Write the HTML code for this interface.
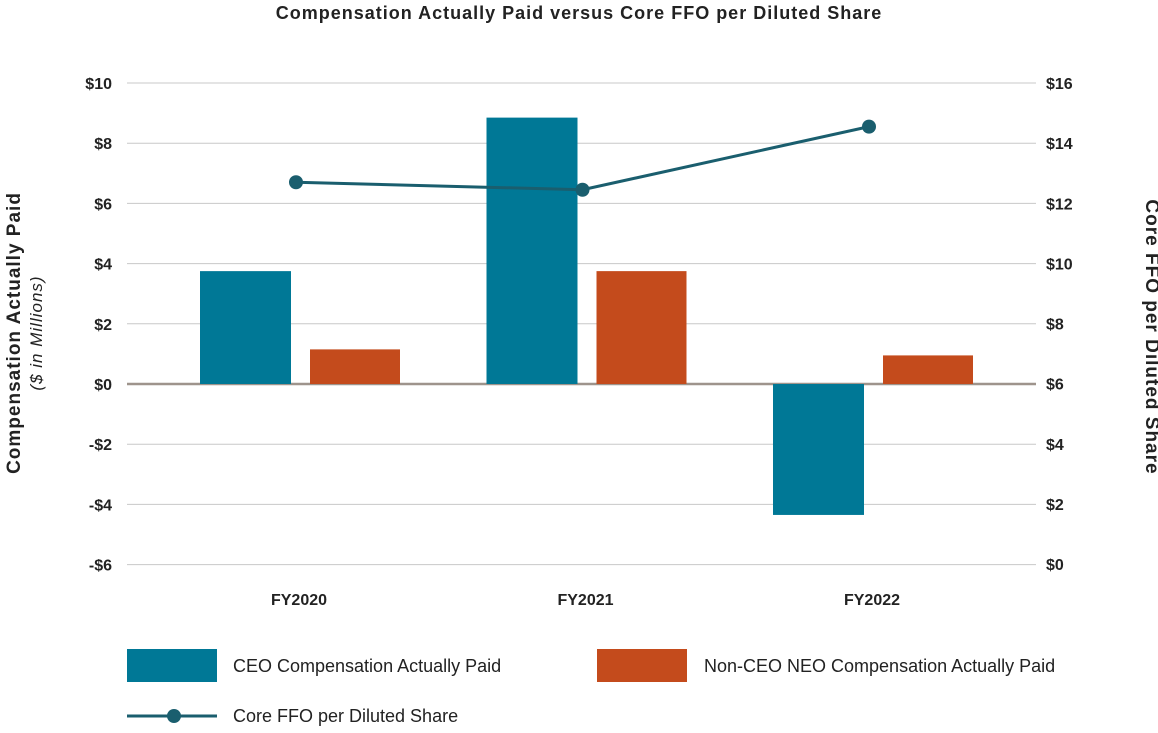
<!DOCTYPE html>
<html><head><meta charset="utf-8"><style>
body{margin:0;background:#fff;}
svg text{font-family:"Liberation Sans",sans-serif;fill:#222;}
</style></head><body>
<svg width="1158" height="728" id="c">
<text x="579" y="19" text-anchor="middle" font-size="18" font-weight="bold" letter-spacing="1">Compensation Actually Paid versus Core FFO per Diluted Share</text>
<g id="grid"></g><g id="bars"></g><g id="line"></g>
<text transform="translate(20,333) rotate(-90)" text-anchor="middle" font-size="19" font-weight="bold" letter-spacing="1">Compensation Actually Paid</text>
<text transform="translate(42,333) rotate(-90)" text-anchor="middle" font-size="17" font-style="italic" letter-spacing="1">($ in Millions)</text>
<text transform="translate(1146,337) rotate(90)" text-anchor="middle" font-size="19" font-weight="bold" letter-spacing="1">Core FFO per Diluted Share</text>
<rect x="127" y="649" width="90" height="33" fill="#007896"/>
<text x="233" y="672" font-size="18">CEO Compensation Actually Paid</text>
<rect x="597" y="649" width="90" height="33" fill="#c44b1c"/>
<text x="704" y="672" font-size="18">Non-CEO NEO Compensation Actually Paid</text>
<line x1="127" y1="716" x2="217" y2="716" stroke="#1a5e6e" stroke-width="3"/>
<circle cx="174" cy="716" r="7" fill="#1a5e6e"/>
<text x="233" y="722" font-size="18">Core FFO per Diluted Share</text>
</svg>
<script>
const categories=["FY2020","FY2021","FY2022"];
const ceoValues=[3.75,8.85,-4.35];
const neoValues=[1.15,3.75,0.95];
const ffoValues=[12.7,12.45,14.55];
const leftTicks=[10,8,6,4,2,0,-2,-4,-6];
const rightTicks=[16,14,12,10,8,6,4,2,0];
const NS="http://www.w3.org/2000/svg";
const yL=v=>384-v*30.1;
const yR=v=>564-v*30.06;
const xC=i=>299+286.5*i;
function mk(t,a,p){const e=document.createElementNS(NS,t);for(const k in a)e.setAttribute(k,a[k]);document.getElementById(p).appendChild(e);return e;}
leftTicks.forEach(v=>{
  if(v!==0){const l=mk('line',{x1:127,x2:1036,y1:yL(v),y2:yL(v),stroke:'#c8c8c8','stroke-width':1},'grid');
  
  }
  const t=mk('text',{x:112,y:yL(v)+6,'text-anchor':'end','font-size':16,'font-weight':'bold'},'grid');
  t.textContent=(v<0?'-$':'$')+Math.abs(v);
  
  
});
rightTicks.forEach(v=>{
  const t=mk('text',{x:1046,y:yR(v)+6,'font-size':16,'font-weight':'bold'},'grid');
  t.textContent='$'+v;
  
  
});
categories.forEach((c,i)=>{
  const t=mk('text',{x:xC(i),y:605,'text-anchor':'middle','font-size':16,'font-weight':'bold'},'grid');
  t.textContent=c;
  
  
  const a=ceoValues[i],b=neoValues[i];
  const r1=mk('rect',{x:xC(i)-99,width:91,y:Math.min(yL(a),yL(0)),height:Math.abs(yL(a)-yL(0)),fill:'#007896'},'bars');
  
  
  const r2=mk('rect',{x:xC(i)+11,width:90,y:Math.min(yL(b),yL(0)),height:Math.abs(yL(b)-yL(0)),fill:'#c44b1c'},'bars');
  
  
});
const z=mk('line',{x1:127,x2:1036,y1:yL(0),y2:yL(0),stroke:'#9e948c','stroke-width':2.5},'grid');


const pl=mk('polyline',{points:ffoValues.map((v,i)=>(xC(i)-3)+','+yR(v)).join(' '),fill:'none',stroke:'#1a5e6e','stroke-width':3},'line');


ffoValues.forEach((v,i)=>{
  const c=mk('circle',{cx:xC(i)-3,cy:yR(v),r:7,fill:'#1a5e6e'},'line');
  
  
});
</script>
</body></html>
